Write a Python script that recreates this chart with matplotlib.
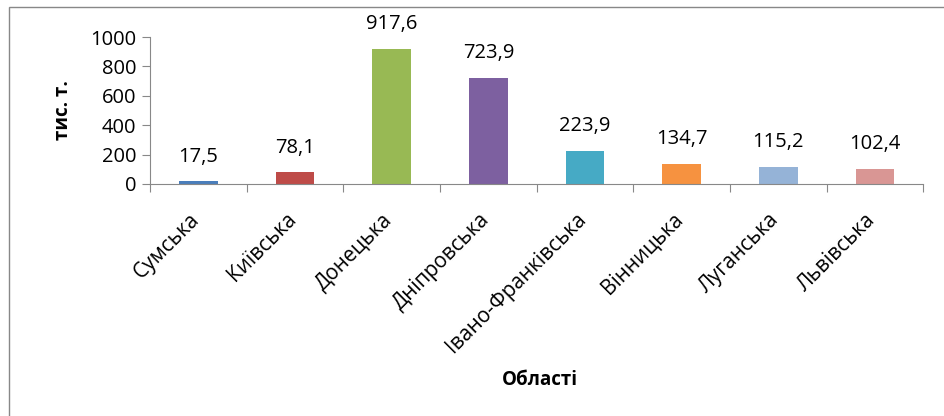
import matplotlib.pyplot as plt
from matplotlib.patches import Rectangle

regions = ["Сумська", "Київська", "Донецька", "Дніпровська",
           "Івано-Франківська", "Вінницька", "Луганська", "Львівська"]
values = [17.5, 78.1, 917.6, 723.9, 223.9, 134.7, 115.2, 102.4]
colors = ["#4A7EBB", "#BE4B48", "#98B954", "#7D60A0",
          "#46AAC5", "#F69240", "#95B3D7", "#D99694"]

plt.rcParams['font.family'] = ['Open Sans', 'DejaVu Sans']

fig = plt.figure(figsize=(9.44, 4.16), dpi=100)
ax = fig.add_axes([0.159, 0.558, 0.819, 0.353])

x = list(range(len(regions)))
ax.bar(x, values, width=0.4, color=colors)
for xi, v in zip(x, values):
    ax.text(xi, v + 100, f"{v:.1f}".replace(".", ","), ha='center', va='bottom', fontsize=14.5)

ax.set_xlim(-0.5, len(regions) - 0.5)
ax.set_ylim(0, 1000)
ax.set_yticks(range(0, 1001, 200))
ax.tick_params(axis='y', labelsize=14.5, length=6, color='#888888', pad=4)

# category separators as major ticks, names on minor ticks
ax.set_xticks([i - 0.5 for i in range(len(regions) + 1)], minor=False)
ax.set_xticklabels([])
ax.set_xticks([i - 0.1 for i in x], minor=True)
ax.set_xticklabels(regions, minor=True, rotation=45, ha='right',
                   rotation_mode='anchor', fontsize=15)
ax.tick_params(axis='x', which='major', length=6, color='#888888')
ax.tick_params(axis='x', which='minor', length=0, pad=18)

for s in ['top', 'right']:
    ax.spines[s].set_visible(False)
for s in ['left', 'bottom']:
    ax.spines[s].set_color('#888888')

ax.set_ylabel("тис. т.", fontsize=13.5, fontweight='bold', labelpad=12)
fig.text(0.572, 0.087, "Області", ha='center', va='center', fontsize=13.5, fontweight='bold')

fig.patches.append(Rectangle((0.0095, -0.05), 1.1, 1.033, transform=fig.transFigure,
                             fill=False, edgecolor='#888888', linewidth=1))

fig.savefig("out.png", dpi=100)
